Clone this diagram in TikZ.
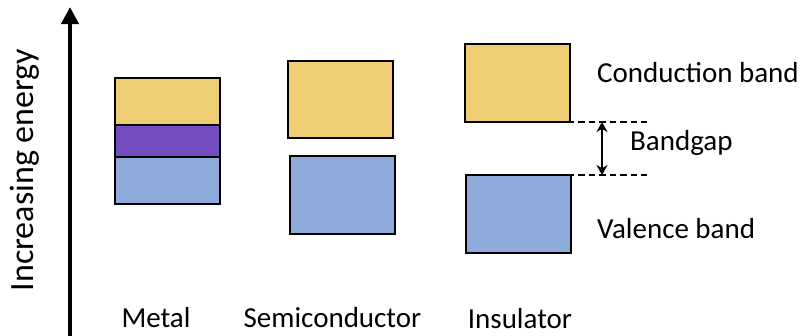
\documentclass[tikz,border=0pt]{standalone}
\usepackage{fontspec}
\setmainfont{Carlito}
\usetikzlibrary{arrows.meta}
\definecolor{bandgold}{HTML}{F0CE74}
\definecolor{bandblue}{HTML}{8EAADB}
\definecolor{bandpurple}{HTML}{744EC0}
\begin{document}
\begin{tikzpicture}[x=1pt,y=-1pt,
  band/.style={draw=black, line width=1.3pt, inner sep=0pt, minimum width=105pt},
  lbl/.style={font=\fontsize{29}{34}\selectfont, inner sep=0pt},
  gapline/.style={dash pattern=on 6.5pt off 4pt, line width=1.4pt}]
\useasboundingbox (0,0) rectangle (806,335);
% energy axis
\coordinate (axbot) at (70,340);
\coordinate (axtop) at (70,7);
\draw[line width=4pt, -{Triangle[width=17pt,length=17pt]}] (axbot) -- (axtop);
\node[rotate=90, inner sep=0pt, font=\fontsize{34}{38}\selectfont] (axlabel) at (25,170) {Increasing energy};
% metal
\node[band, fill=bandgold, minimum height=47pt] (mcond) at (167.5,101.5) {};
\node[band, fill=bandpurple, minimum height=32pt] (mmid) at (167.5,141) {};
\node[band, fill=bandblue, minimum height=47pt] (mval) at (167.5,180.5) {};
% semiconductor
\node[band, fill=bandgold, minimum height=77pt] (scond) at (340.5,99.5) {};
\node[band, fill=bandblue, minimum height=78pt] (sval) at (342.5,195) {};
% insulator
\node[band, fill=bandgold, minimum height=78pt] (icond) at (517.5,83) {};
\node[band, fill=bandblue, minimum height=78pt] (ival) at (518.5,214) {};
% band gap markers
\coordinate (gtL) at (557,122);
\coordinate (gtR) at (647,122);
\coordinate (gbL) at (557,175);
\coordinate (gbR) at (647,175);
\coordinate (gt) at (602,122);
\coordinate (gb) at (602,175);
\draw[gapline] (gtL) -- (gtR);
\draw[gapline] (gbL) -- (gbR);
\draw[line width=2.2pt, {Stealth[length=10pt,width=11pt]}-{Stealth[length=10pt,width=11pt]}] (gt) -- (gb);
% labels
\node[lbl, anchor=base west] (tcond) at (597,82) {Conduction band};
\node[lbl, anchor=base west] (tgap) at (630,150) {Bandgap};
\node[lbl, anchor=base west] (tval) at (597,238) {Valence band};
\node[lbl, anchor=base] (tmetal) at (156,327) {Metal};
\node[lbl, anchor=base] (tsemi) at (332.5,327) {Semiconductor};
\node[lbl, anchor=base] (tins) at (520,328) {Insulator};
\end{tikzpicture}
\end{document}
